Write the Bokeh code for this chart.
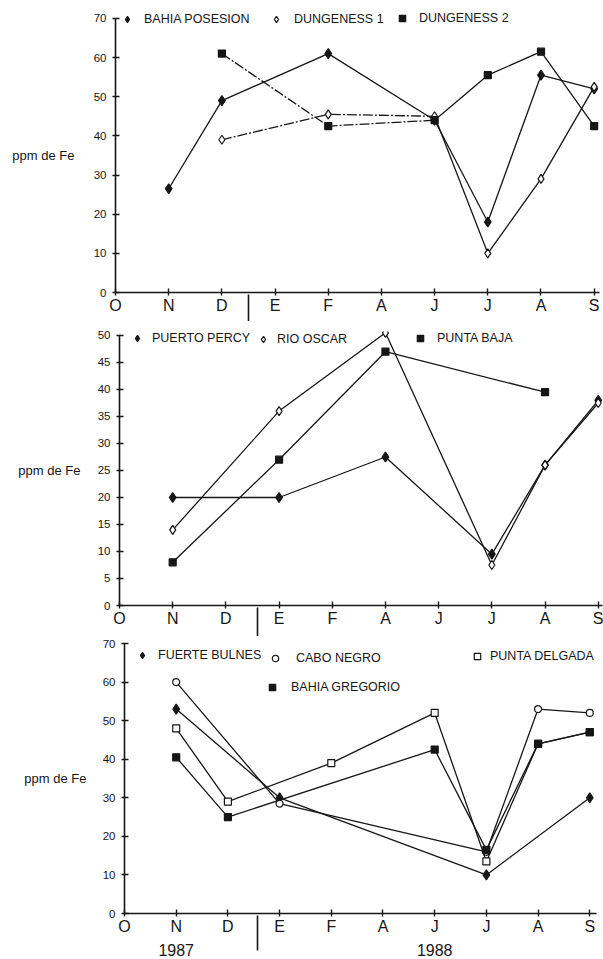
from bokeh.plotting import figure
from bokeh.models import (Range1d, FixedTicker, Legend, LegendItem, LinearAxis,
                          ColumnDataSource)
from bokeh.core.properties import value
from bokeh.layouts import column, row
from bokeh.embed import file_html
from bokeh.resources import INLINE

# ---------------- data ----------------
months = ["O", "N", "D", "E", "F", "A", "J", "J", "A", "S"]
years = ["1987", "1988"]
year_pos = [1, 6]

# panel 1 (ppm de Fe)
bahia_posesion = [None, 26.5, 49, None, 61, None, 44, 18, 55.5, 52]
dungeness_1 = [None, None, 39, None, 45.5, None, 45, 10, 29, 52.5]
dungeness_2 = [None, None, 61, None, 42.5, None, 44, 55.5, 61.5, 42.5]
# panel 2
puerto_percy = [None, 20, None, 20, None, 27.5, None, 9.5, 26, 38]
rio_oscar = [None, 14, None, 36, None, 50.5, None, 7.5, 26, 37.5]
punta_baja = [None, 8, None, 27, None, 47, None, None, 39.5, None]
# panel 3
fuerte_bulnes = [None, 53, None, 30, None, None, None, 10, None, 30]
cabo_negro = [None, 60, None, 28.5, None, None, None, 16, 53, 52]
punta_delgada = [None, 48, 29, None, 39, None, 52, 13.5, 44, 47]
bahia_gregorio = [None, 40.5, 25, None, None, None, 42.5, 16.5, 44, 47]

y_ticks_1 = [0, 10, 20, 30, 40, 50, 60, 70]
y_ticks_2 = [0, 5, 10, 15, 20, 25, 30, 35, 40, 45, 50]
y_ticks_3 = [0, 10, 20, 30, 40, 50, 60, 70]
y_title = "ppm de Fe"

SANS = "'Liberation Sans', Arial, sans-serif"
INK = "#161616"
MONTH_AXIS = 22   # height of the month-label axis panel (tick 3 + standoff 1 + text 18)
DASHDOT = "10 2 2 2"


def make_fig(height, top, bottom, left, right, x_end, y_top, y_end, y_ticks,
             title_tick, title_standoff):
    p = figure(width=603, height=height, output_backend="svg", toolbar_location=None,
               x_range=Range1d(0, x_end), y_range=Range1d(0, y_end),
               min_border_top=top, min_border_bottom=bottom,
               min_border_left=left, min_border_right=right)
    p.grid.visible = False
    p.outline_line_color = None
    p.background_fill_color = "white"
    p.border_fill_color = "white"
    for ax in (p.xaxis, p.yaxis):
        ax.axis_line_color = INK
        ax.axis_line_width = 1.6
        ax.major_tick_line_color = INK
        ax.major_tick_line_width = 1.4
        ax.major_tick_in = 4
        ax.major_tick_out = 3
        ax.minor_tick_line_color = None
        ax.major_label_text_color = INK
    p.xaxis.ticker = FixedTicker(ticks=list(range(len(months))))
    p.xaxis.major_label_overrides = {i: m for i, m in enumerate(months)}
    p.xaxis.major_label_text_font = SANS
    p.xaxis.major_label_text_font_size = "16px"
    p.xaxis.major_label_standoff = 1
    p.yaxis.ticker = FixedTicker(ticks=y_ticks)
    p.yaxis.bounds = (0, y_top)
    p.yaxis.major_label_text_font = SANS
    p.yaxis.major_label_text_font_size = "11.5px"
    p.yaxis.major_label_standoff = 6
    # horizontal "ppm de Fe" title as an extra left axis
    ta = LinearAxis(ticker=FixedTicker(ticks=[title_tick]),
                    major_label_overrides={title_tick: y_title},
                    axis_line_color=None, major_tick_line_color=None,
                    major_tick_in=0, major_tick_out=0,
                    minor_tick_line_color=None, minor_tick_in=0, minor_tick_out=0,
                    major_label_standoff=title_standoff,
                    major_label_text_font=SANS, major_label_text_font_size="13px",
                    major_label_text_color=INK)
    p.add_layout(ta, "left")
    return p


def add_separator(p, sep_x, out_len):
    # vertical bar between 1987 and 1988 below the month axis
    sa = LinearAxis(ticker=FixedTicker(ticks=[sep_x]),
                    major_label_overrides={sep_x: ""},
                    axis_line_color=None, major_tick_line_color=INK,
                    major_tick_line_width=1.6,
                    major_tick_in=MONTH_AXIS, major_tick_out=out_len,
                    minor_tick_line_color=None, minor_tick_in=0, minor_tick_out=0,
                    major_label_standoff=0, major_label_text_font_size="0px")
    p.add_layout(sa, "below")


def add_series(p, vals, marker, fill, size, dash_until=None):
    xs = [i for i, v in enumerate(vals) if v is not None]
    ys = [v for v in vals if v is not None]
    src = ColumnDataSource(dict(x=xs, y=ys))
    if dash_until is None:
        p.line("x", "y", source=src, line_color=INK, line_width=1.3)
    else:
        # early part of the series drawn dash-dot, the rest solid
        a = [(x, y) for x, y in zip(xs, ys) if x <= dash_until]
        b = [(x, y) for x, y in zip(xs, ys) if x >= dash_until]
        p.line([q[0] for q in a], [q[1] for q in a], line_color=INK,
               line_width=1.3, line_dash=DASHDOT)
        p.line([q[0] for q in b], [q[1] for q in b], line_color=INK, line_width=1.3)
    return p.scatter("x", "y", source=src, marker=marker, size=size,
                     fill_color=fill, line_color=INK, line_width=1.2)


def add_key(p, r, label, fx, fy, standoff):
    lg = Legend(items=[LegendItem(label=value(label), renderers=[r])],
                location=(fx - 8, fy - 8), orientation="horizontal",
                glyph_width=16, glyph_height=16, label_height=16, label_width=10,
                label_standoff=standoff, padding=0, margin=0, spacing=0,
                border_line_alpha=0, background_fill_alpha=0,
                label_text_font=SANS, label_text_font_size="12.5px",
                label_text_color=INK)
    p.add_layout(lg)


# ---------------- panel 1 ----------------
p1 = make_fig(321, 12, 28, 115, 4, 9.1, 70, 71.5, y_ticks_1, 35, 16)
add_separator(p1, 2.5, 5)
r = add_series(p1, bahia_posesion, "diamond", INK, 10)
add_key(p1, r, "BAHIA POSESION", 12, 273, 9)
r = add_series(p1, dungeness_1, "diamond", "white", 9, dash_until=6)
add_key(p1, r, "DUNGENESS 1", 161, 273, 10)
r = add_series(p1, dungeness_2, "square", INK, 7, dash_until=6)
add_key(p1, r, "DUNGENESS 2", 287, 274, 9)

# ---------------- panel 2 ----------------
p2 = make_fig(315, 10, 30, 119, 1, 9.08, 50, 50.74, y_ticks_2, 25, 14)
add_separator(p2, 2.6, 7)
r = add_series(p2, puerto_percy, "diamond", INK, 10)
add_key(p2, r, "PUERTO PERCY", 18, 267, 7)
r = add_series(p2, rio_oscar, "diamond", "white", 9)
add_key(p2, r, "RIO OSCAR", 144, 266, 6)
r = add_series(p2, punta_baja, "square", INK, 7)
add_key(p2, r, "PUNTA BAJA", 301, 267, 9)

# ---------------- panel 3 ----------------
p3 = make_fig(323, 7, 46, 124, 7, 9.13, 70, 70, y_ticks_3, 35, 13)
r = add_series(p3, fuerte_bulnes, "diamond", INK, 10)
add_key(p3, r, "FUERTE BULNES", 18, 258, 8)
r = add_series(p3, cabo_negro, "circle", "white", 7)
add_key(p3, r, "CABO NEGRO", 151, 255, 13)
r = add_series(p3, punta_delgada, "square", "white", 7)
add_key(p3, r, "PUNTA DELGADA", 353, 257, 5)
r = add_series(p3, bahia_gregorio, "square", INK, 7)
add_key(p3, r, "BAHIA GREGORIO", 148, 226, 11)
# year labels, with the 1987/1988 separator as a minor tick of this axis
ya = LinearAxis(ticker=FixedTicker(ticks=year_pos, minor_ticks=[2.58]),
                major_label_overrides={x: t for x, t in zip(year_pos, years)},
                axis_line_color=None, major_tick_line_color=None,
                major_tick_in=0, major_tick_out=0,
                minor_tick_line_color=INK, minor_tick_line_width=1.6,
                minor_tick_in=MONTH_AXIS, minor_tick_out=13,
                major_label_standoff=-7,
                major_label_text_font=SANS, major_label_text_font_size="16px",
                major_label_text_color=INK)
p3.add_layout(ya, "below")

# each panel in its own row so the three plot frames keep their own borders
layout = column(row(p1), row(p2), row(p3), spacing=0)
open("out.html", "w").write(file_html(layout, INLINE))
